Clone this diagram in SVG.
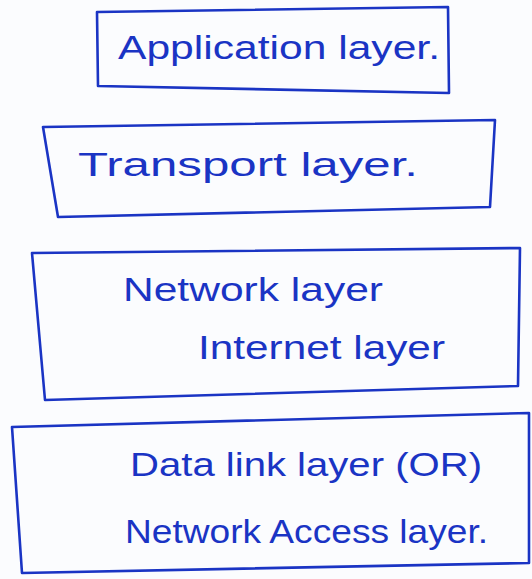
<svg xmlns="http://www.w3.org/2000/svg" width="532" height="579" viewBox="0 0 532 579">
  <style>
    .box { fill: none; stroke: #1a34c4; stroke-width: 2.6; stroke-linejoin: round; stroke-linecap: round; }
    .lbl { fill: #1a34c4; font-family: "Liberation Sans", "DejaVu Sans", sans-serif; font-size: 34px; }
  </style>
  <rect x="0" y="0" width="532" height="579" fill="#fbfcfe"/>
  <g id="application">
    <path class="box" d="M97,12 L448,7 L449,93 L98,86 Z"/>
    <text class="lbl" x="118" y="59" textLength="322" lengthAdjust="spacingAndGlyphs">Application layer.</text>
  </g>
  <g id="transport">
    <path class="box" d="M43,127 L495,120 L490,207 L58,217 Z"/>
    <text class="lbl" x="78" y="176" textLength="340" lengthAdjust="spacingAndGlyphs">Transport layer.</text>
  </g>
  <g id="network">
    <path class="box" d="M32,253 L520,248 L518,386 L45,400 Z"/>
    <text class="lbl" x="123" y="301" textLength="260" lengthAdjust="spacingAndGlyphs">Network layer</text>
    <text class="lbl" x="198" y="359" textLength="247" lengthAdjust="spacingAndGlyphs">Internet layer</text>
  </g>
  <g id="datalink">
    <path class="box" d="M12,427 L529,413 L529,563 L22,573 Z"/>
    <text class="lbl" x="130" y="476" textLength="352" lengthAdjust="spacingAndGlyphs">Data link layer (OR)</text>
    <text class="lbl" x="125" y="543" textLength="363" lengthAdjust="spacingAndGlyphs">Network Access layer.</text>
  </g>
</svg>
